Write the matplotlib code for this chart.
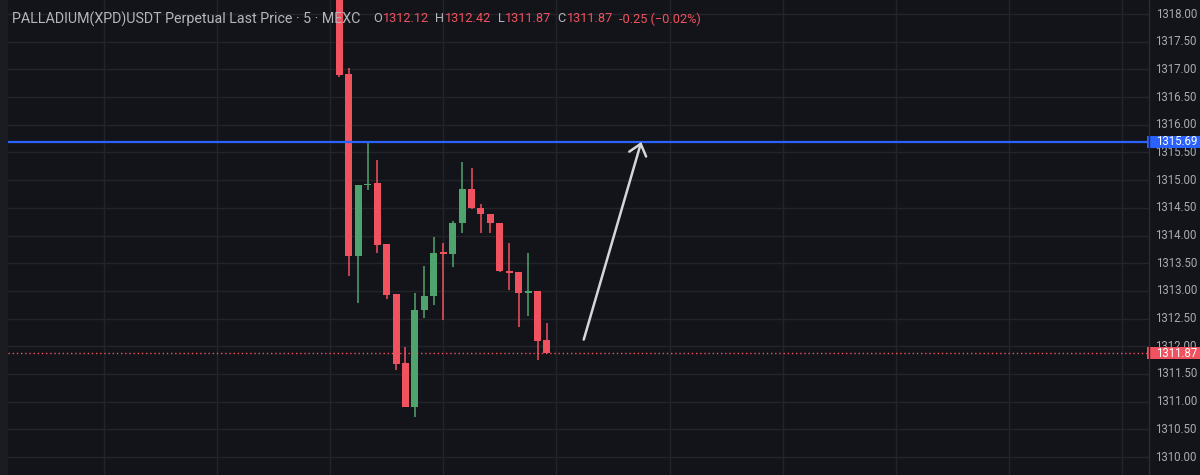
import matplotlib
matplotlib.use("Agg")
import matplotlib.pyplot as plt
import matplotlib.transforms as mtransforms
from matplotlib.patches import Rectangle
import numpy as np

plt.rcParams["font.family"] = ["Roboto", "DejaVu Sans"]

# 5-minute candles
opens = [1318.50, 1316.92, 1313.63, 1314.91, 1314.95, 1313.85, 1312.95, 1311.70,
         1310.91, 1312.66, 1312.91, 1313.69, 1313.67, 1314.23, 1314.84, 1314.50,
         1314.39, 1314.23, 1313.36, 1313.34, 1312.96, 1313.00, 1312.12]
highs = [1318.60, 1317.03, 1314.91, 1315.67, 1315.36, 1313.85, 1312.95, 1311.99,
         1312.96, 1313.45, 1313.97, 1313.87, 1314.26, 1315.33, 1315.22, 1314.57,
         1314.39, 1314.23, 1313.87, 1313.34, 1313.69, 1313.00, 1312.42]
lows = [1316.86, 1313.27, 1312.78, 1314.82, 1313.69, 1312.86, 1311.57, 1310.91,
        1310.73, 1312.51, 1312.75, 1312.48, 1313.43, 1314.05, 1314.48, 1314.05,
        1314.05, 1313.34, 1313.02, 1312.35, 1312.55, 1311.75, 1311.87]
closes = [1316.90, 1313.63, 1314.91, 1314.93, 1313.83, 1312.93, 1311.68, 1310.91,
          1312.66, 1312.91, 1313.69, 1313.67, 1314.23, 1314.84, 1314.50, 1314.39,
          1314.23, 1313.36, 1313.32, 1312.96, 1313.00, 1312.10, 1311.87]

price_ticks = [1310.0 + 0.5 * i for i in range(17)]
level_price = 1315.69
last_price = 1311.87
arrow_start = (25.9, 1312.12)
arrow_end = (32.0, 1315.69)

title = "PALLADIUM(XPD)USDT Perpetual Last Price \u00b7 5 \u00b7 MEXC"
ohlc_parts = [("O", "1312.12"), ("H", "1312.42"), ("L", "1311.87"), ("C", "1311.87")]
change_text = "-0.25 (\u22120.02%)"

BG = "#131419"
GRID = "#222429"
UP = "#4fa46d"
DOWN = "#f0525f"
BLUE = "#2962ff"
TXT = "#a9abb2"

fig = plt.figure(figsize=(12, 4.75), dpi=100, facecolor=BG)
ax = fig.add_axes([8 / 1200, 0, 1141 / 1200, 1])
ax.set_facecolor(BG)
fig.patches.append(Rectangle((0, 0), 8 / 1200, 1, transform=fig.transFigure,
                             facecolor="#1b1c21", edgecolor="none", zorder=0))

x = np.arange(len(opens))
o = np.array(opens)
c = np.array(closes)
colors = [UP if cc >= oo else DOWN for oo, cc in zip(opens, closes)]

ax.vlines(x, lows, highs, colors=colors, linewidth=1.1, zorder=3)
heights = np.maximum(np.abs(c - o), 0.025)
ax.bar(x, heights, bottom=np.minimum(o, c), width=0.74, color=colors,
       linewidth=0, zorder=4)

ax.set_xlim(-35.15, 85.84)
ax.set_ylim(1309.675, 1318.253)

for p in price_ticks:
    ax.axhline(p, color=GRID, linewidth=1, zorder=1)
for gx in range(-25, 90, 12):
    ax.axvline(gx, color=GRID, linewidth=1, zorder=1)

ax.axhline(level_price, color=BLUE, linewidth=1.6, zorder=5)
ax.axhline(last_price, color=DOWN, linewidth=1, linestyle=(0, (1, 2)), zorder=5)

ax.annotate("", xy=arrow_end, xytext=arrow_start,
            arrowprops=dict(arrowstyle="->,head_length=0.55,head_width=0.45",
                            color="#d6d6d8", lw=1.8, mutation_scale=14,
                            shrinkA=0, shrinkB=0), zorder=6)

for s in ax.spines.values():
    s.set_visible(False)
ax.set_xticks([])
ax.set_yticks([])

# right price scale
tr = mtransforms.blended_transform_factory(fig.transFigure, ax.transData)
for p in price_ticks:
    ax.text(1197 / 1200, p, f"{p:.2f}", transform=tr, ha="right", va="center",
            color=TXT, fontsize=8.3, clip_on=False, zorder=7)
box_h = 12 / 55.375
for p, col in [(level_price, BLUE), (last_price, DOWN)]:
    ax.add_patch(Rectangle((1147 / 1200, p - box_h / 2), 53 / 1200, box_h,
                           transform=tr, facecolor=col, edgecolor="none",
                           clip_on=False, zorder=8))
    ax.text(1197 / 1200, p, f"{p:.2f}", transform=tr, ha="right", va="center",
            color="white", fontsize=8.3, clip_on=False, zorder=9)
fig.add_artist(plt.Line2D([1149 / 1200, 1149 / 1200], [0, 1], color="#2a2c31",
                          linewidth=1, transform=fig.transFigure))

# legend line
fig.canvas.draw()
renderer = fig.canvas.get_renderer()
ty = 1 - 19 / 475
t = fig.text(12 / 1200, ty, title, color="#b4b6bd", fontsize=10.3, va="center")
xpos = t.get_window_extent(renderer).x1 + 13
for letter, val in ohlc_parts:
    a = fig.text(xpos / 1200, ty, letter, color="#b4b6bd", fontsize=9.2, va="center")
    xpos = a.get_window_extent(renderer).x1 + 1
    b = fig.text(xpos / 1200, ty, val, color=DOWN, fontsize=9.2, va="center")
    xpos = b.get_window_extent(renderer).x1 + 6
fig.text(xpos / 1200, ty, change_text, color=DOWN, fontsize=9.2, va="center")

fig.savefig("out.png", dpi=100, facecolor=BG)
